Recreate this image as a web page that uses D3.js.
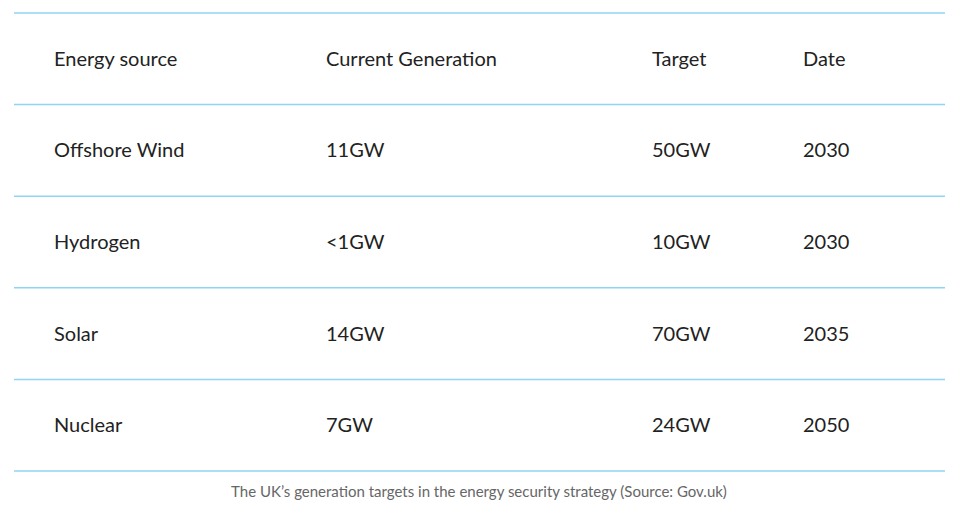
<!DOCTYPE html>
<html>
<head>
<meta charset="utf-8">
<script src="https://cdn.jsdelivr.net/npm/d3@7"></script>
<style>
  body { margin: 0; background: #fff; }
  svg { display: block; font-family: Lato, "Open Sans", sans-serif; }
  .cell { font-size: 20px; fill: #222; }
  .caption { font-size: 15px; fill: #666; }
</style>
</head>
<body>
<svg id="table"></svg>
<script>
// table contents
const columns = ['Energy source', 'Current Generation', 'Target', 'Date'];
const sources = ['Offshore Wind', 'Hydrogen', 'Solar', 'Nuclear'];
const current = ['11GW', '<1GW', '14GW', '7GW'];
const targets = ['50GW', '10GW', '70GW', '24GW'];
const dates = ['2030', '2030', '2035', '2050'];
const caption = 'The UK\u2019s generation targets in the energy security strategy (Source: Gov.uk)';

const width = 960, height = 527;
const rows = [columns].concat(sources.map((s, i) => [s, current[i], targets[i], dates[i]]));

const svg = d3.select('#table')
    .attr('width', width)
    .attr('height', height);

// row bands between the rules
const yScale = d3.scaleBand()
    .domain(d3.range(rows.length))
    .range([13, 471]);

// left edge of each column
const xScale = d3.scaleOrdinal()
    .domain(d3.range(columns.length))
    .range([54, 326, 652, 803]);

// horizontal rules
const rules = d3.range(rows.length + 1).map(i => i === rows.length ? yScale.range()[1] : yScale(i));
svg.selectAll('.rule')
  .data(rules)
  .join('line')
    .attr('class', 'rule')
    .attr('x1', 14)
    .attr('x2', 945)
    .attr('y1', d => d)
    .attr('y2', d => d)
    .attr('stroke', '#8fd4f3')
    .attr('stroke-width', 1.5);

// cells
const rowG = svg.selectAll('.row')
  .data(rows)
  .join('g')
    .attr('class', 'row')
    .attr('transform', (d, i) => `translate(0,${yScale(i) + yScale.bandwidth() / 2})`);

rowG.selectAll('text')
  .data(d => d)
  .join('text')
    .attr('class', 'cell')
    .attr('x', (d, j) => xScale(j))
    .attr('dy', '0.35em')
    .text(d => d);

svg.append('text')
    .attr('class', 'caption')
    .attr('x', 479)
    .attr('y', 492)
    .attr('dy', '0.35em')
    .attr('text-anchor', 'middle')
    .text(caption);
</script>
</body>
</html>
